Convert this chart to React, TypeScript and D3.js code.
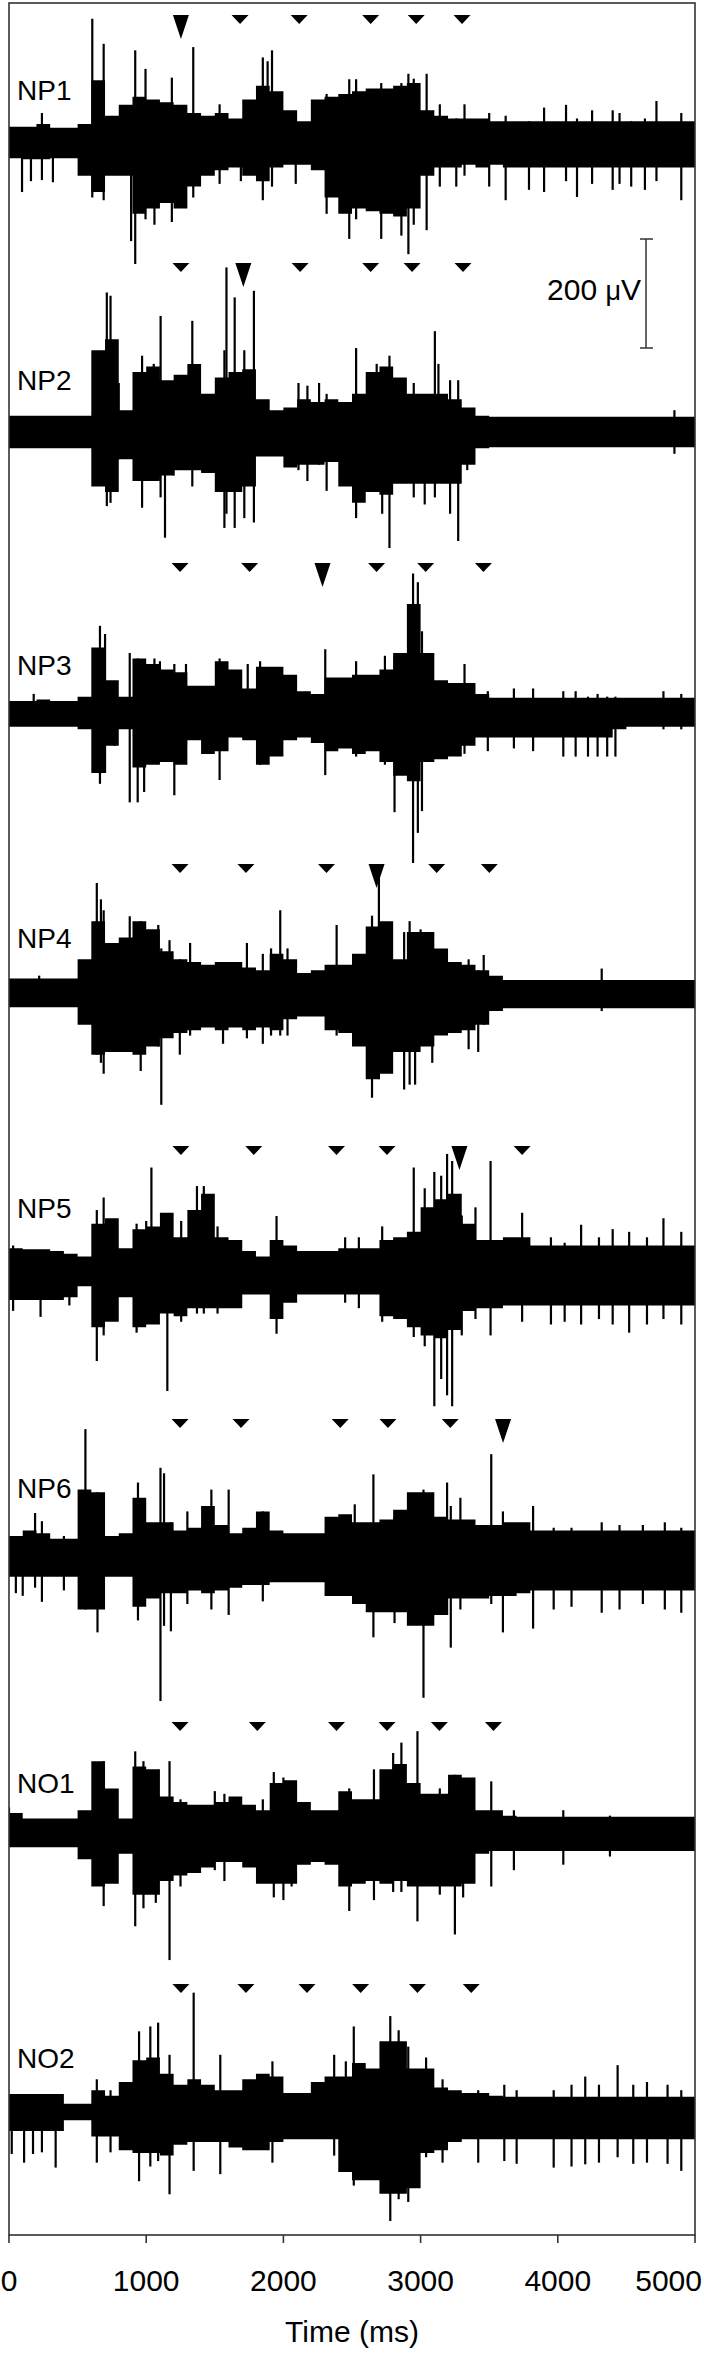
import React from 'react';
import * as d3 from 'd3';

// ---------- data (μV, ms) ----------
const TIME_TICKS = [0, 1000, 2000, 3000, 4000, 5000];
const TRACE_NAMES = ['NP1', 'NP2', 'NP3', 'NP4', 'NP5', 'NP6', 'NO1', 'NO2'];
const BIN_MS = 100;

// dense band envelopes, 100 ms bins from 0 to 4900 ms
const NP1_HI = [30,30,35,28,28,35,115,50,70,85, 80,75,70,55,50,55,45,80,105,95, 60,40,80,85,90,95,100,100,105,110, 60,50,45,45,45,40,40,40,40,40, 40,40,40,40,40,40,40,40,40,40];
const NP1_LO = [-28,-30,-30,-28,-28,-60,-90,-60,-60,-130, -120,-110,-120,-80,-60,-50,-45,-60,-70,-45, -40,-40,-50,-100,-130,-120,-125,-130,-135,-120, -60,-45,-45,-40,-45,-40,-45,-45,-45,-45, -45,-45,-45,-45,-45,-45,-45,-45,-45,-45];
const NP2_HI = [30,30,30,30,30,30,150,170,40,110, 120,95,105,125,70,100,110,115,60,40, 45,60,55,60,55,70,110,120,100,70, 70,70,60,45,30,28,28,28,28,28, 28,28,28,28,28,28,28,28,28,28];
const NP2_LO = [-30,-30,-30,-30,-30,-30,-100,-110,-50,-90, -90,-80,-70,-70,-75,-110,-110,-100,-45,-45, -65,-60,-60,-55,-100,-130,-110,-115,-95,-95, -95,-95,-95,-60,-30,-28,-28,-28,-28,-28, -28,-28,-28,-28,-28,-28,-28,-28,-28,-28];
const NP3_HI = [22,22,25,22,22,30,120,60,30,100, 90,80,75,50,50,95,80,45,85,85, 70,40,35,65,65,70,70,80,110,200, 110,60,55,55,35,28,28,28,28,28, 28,28,28,28,28,28,28,28,28,28];
const NP3_LO = [-25,-25,-25,-25,-25,-30,-110,-60,-30,-100, -95,-90,-95,-50,-75,-70,-45,-50,-95,-80, -50,-45,-55,-70,-65,-75,-70,-90,-115,-125, -90,-85,-80,-60,-45,-45,-45,-45,-45,-45, -45,-45,-45,-45,-30,-25,-25,-25,-25,-25];
const NP4_HI = [25,25,25,25,25,60,130,90,100,130, 115,75,60,55,50,55,55,45,40,70, 60,35,40,50,50,70,120,130,60,110, 110,80,55,50,40,30,22,22,22,22, 22,22,22,22,22,22,22,22,22,22];
const NP4_LO = [-28,-28,-28,-28,-28,-60,-115,-110,-110,-115, -100,-85,-75,-70,-65,-70,-65,-70,-65,-70, -50,-45,-45,-70,-75,-100,-160,-150,-110,-110, -100,-80,-75,-70,-60,-35,-30,-30,-30,-30, -30,-30,-30,-30,-30,-30,-30,-30,-30,-30];
const NP5_HI = [40,38,38,35,30,25,85,95,40,75, 80,105,60,110,140,60,55,35,25,55, 45,35,35,35,40,40,40,55,60,70, 115,130,140,85,55,55,60,60,45,45, 45,45,45,45,45,45,45,45,45,45];
const NP5_LO = [-55,-55,-55,-55,-50,-30,-105,-95,-50,-105, -100,-80,-85,-70,-70,-70,-70,-45,-45,-90, -60,-45,-45,-45,-45,-45,-45,-85,-90,-105, -120,-125,-110,-75,-70,-70,-65,-65,-65,-65, -65,-65,-65,-65,-65,-65,-65,-65,-65,-65];
const NP6_HI = [35,45,40,30,30,120,115,35,40,105, 60,60,45,50,90,55,40,50,80,45, 40,40,40,70,75,60,60,65,83,115, 115,70,65,65,55,55,60,60,45,45, 45,45,45,45,45,45,45,45,45,45];
const NP6_LO = [-40,-40,-40,-40,-40,-100,-100,-40,-40,-95, -80,-70,-70,-65,-70,-65,-60,-55,-55,-50, -50,-50,-50,-75,-75,-90,-105,-105,-105,-130, -130,-110,-80,-80,-80,-75,-75,-70,-65,-65, -65,-65,-65,-65,-65,-65,-65,-65,-65,-65];
const NO1_HI = [35,25,25,25,25,40,130,80,25,120, 115,65,55,50,50,55,65,50,40,90, 95,55,40,40,75,60,60,115,125,90, 70,70,105,100,40,40,30,28,28,28, 28,28,28,28,28,28,28,28,28,28];
const NO1_LO = [-28,-28,-28,-28,-28,-50,-100,-95,-40,-115, -115,-90,-80,-75,-65,-55,-55,-65,-95,-95, -95,-60,-55,-60,-100,-95,-90,-95,-90,-100, -100,-100,-100,-95,-40,-35,-35,-35,-35,-35, -35,-35,-35,-35,-35,-35,-35,-35,-35,-35];
const NO2_HI = [33,33,33,33,15,15,40,30,55,95, 100,70,50,60,50,40,40,60,70,65, 35,35,55,65,65,90,80,130,130,80, 80,45,40,35,35,30,28,28,28,28, 28,28,28,28,28,28,28,28,28,28];
const NO2_LO = [-35,-35,-35,-35,-15,-15,-45,-45,-70,-75, -75,-80,-60,-55,-55,-55,-65,-70,-70,-55, -50,-50,-50,-50,-110,-125,-125,-150,-150,-140, -75,-70,-55,-50,-50,-50,-50,-50,-50,-50, -50,-50,-50,-50,-50,-50,-50,-50,-50,-50];

// prominent spikes: [time ms, positive peak μV, negative peak μV]
const NP1_SPIKES = [[95,0,-90],[160,0,-70],[240,55,-68],[320,0,-72],[607,228,-100],[690,182,-105],[890,0,-180],[920,170,-222],[995,136,-140],[1060,0,-150],[1187,120,-145],[1343,176,-100],[1535,71,-75],[1690,0,-70],[1850,157,-105],[1885,150,0],[1917,170,-80],[2090,0,-75],[2315,90,-130],[2480,117,-176],[2530,117,-140],[2713,110,-176],[2860,110,-170],[2911,127,-204],[2950,118,-150],[3044,127,-160],[3140,71,-80],[3260,45,-80],[3320,71,-60],[3500,55,-80],[3620,50,-105],[3790,40,-86],[3900,65,-90],[4060,70,-70],[4140,45,-99],[4250,60,-75],[4400,60,-86],[4450,55,-75],[4535,40,-80],[4635,45,-86],[4719,77,-70],[4900,55,-105]];
const NP2_SPIKES = [[713,256,-136],[740,250,-130],[800,90,-50],[970,140,-139],[1055,125,0],[1105,213,-120],[1137,0,-194],[1200,60,-80],[1336,204,-100],[1570,150,-176],[1585,302,-150],[1645,247,-176],[1715,150,-158],[1785,259,-166],[2110,90,-70],[2175,85,-90],[2260,90,-60],[2315,70,-108],[2530,154,-158],[2680,125,-110],[2720,115,-150],[2773,140,-213],[2950,90,-120],[3030,60,-133],[3104,185,-120],[3130,125,-90],[3215,95,-150],[3274,95,-200],[3340,40,-70],[4850,40,-40]];
const NP3_SPIKES = [[180,35,0],[663,160,-130],[700,145,-110],[770,0,-60],[880,110,-164],[938,100,-164],[985,90,-145],[1060,100,0],[1100,95,0],[1205,90,-151],[1290,90,-60],[1535,100,-123],[1740,90,0],[1830,95,-95],[2305,117,-114],[2530,95,-80],[2740,105,-95],[2810,105,-182],[2945,256,-275],[2980,240,-220],[3010,150,-180],[3320,90,-75],[3490,40,-70],[3680,45,-65],[3820,45,-70],[4040,40,-80],[4130,40,-80],[4220,30,-80],[4290,35,-80],[4360,30,-80],[4420,30,-80],[4770,40,-30],[4900,35,-30]];
const NP4_SPIKES = [[220,30,0],[640,200,-115],[670,170,-130],[690,150,-150],[880,139,-100],[960,130,-145],[1088,123,-100],[1110,80,-207],[1170,95,-80],[1245,60,-115],[1320,90,-80],[1560,50,-95],[1734,90,-85],[1850,70,-95],[1910,80,-80],[1977,150,-80],[2030,80,-80],[2388,123,-80],[2440,40,-75],[2646,140,-194],[2696,216,-160],[2880,110,-179],[2920,130,-170],[2960,110,-170],[3000,115,-90],[3085,60,-130],[3350,60,-105],[3420,40,-110],[3460,68,-60],[4320,43,-35]];
const NP5_SPIKES = [[30,45,-75],[230,35,-86],[440,20,-65],[640,110,-167],[690,133,-120],[770,40,-65],[930,85,-115],[1000,90,-90],[1038,188,-95],[1154,90,-222],[1255,90,-95],[1370,154,-80],[1420,154,-80],[1520,80,-80],[1950,99,-117],[2450,60,-60],[2550,60,-70],[2720,80,-95],[2950,188,-123],[3030,150,-140],[3100,180,-250],[3150,173,-200],[3193,213,-230],[3230,200,-250],[3300,100,-120],[3400,115,-90],[3510,200,-120],[3740,105,-95],[3950,60,-100],[4050,50,-95],[4170,83,-100],[4300,60,-90],[4400,75,-100],[4520,70,-115],[4650,60,-100],[4770,95,-90],[4900,70,-100]];
const NP6_SPIKES = [[50,30,-70],[100,30,-75],[190,77,-60],[240,62,-86],[400,35,-65],[557,231,-100],[645,115,-142],[940,133,-120],[1104,160,-268],[1130,150,-130],[1180,60,-140],[1300,80,-90],[1475,120,-100],[1601,120,-110],[1850,80,-85],[2520,93,-90],[2656,148,-151],[2810,70,-125],[3021,120,-262],[3193,133,-110],[3220,90,-170],[3290,105,-100],[3515,185,-90],[3600,80,-142],[3820,90,-135],[3970,50,-100],[4100,50,-95],[4320,60,-106],[4450,55,-100],[4620,55,-90],[4780,60,-100],[4900,50,-106]];
const NO1_SPIKES = [[0,45,0],[690,130,-136],[920,148,-173],[980,130,-140],[1070,90,-130],[1170,130,-235],[1250,60,-100],[1500,75,-70],[1570,70,-90],[1850,60,-90],[1930,110,-120],[2000,100,-125],[2060,90,-100],[2480,80,-145],[2660,115,-125],[2800,145,-110],[2860,164,-110],[2977,185,-164],[3140,80,-115],[3250,105,-188],[3310,90,-120],[3515,93,-100],[3680,40,-70],[4040,40,-60],[4380,30,-45]];
const NO2_SPIKES = [[20,0,-77],[110,0,-93],[175,0,-77],[240,0,-74],[340,0,-102],[640,60,-93],[740,40,-74],[948,148,-127],[1030,157,-100],[1087,164,-90],[1170,105,-151],[1346,219,-108],[1540,105,-114],[1920,93,-93],[2370,105,-80],[2455,93,-80],[2513,157,-135],[2779,176,-200],[2840,150,-160],[2910,120,-165],[3040,100,-83],[3160,60,-93],[3420,40,-93],[3610,50,-90],[3700,40,-95],[3970,40,-102],[4100,50,-100],[4200,65,-96],[4300,50,-93],[4436,86,-83],[4550,50,-95],[4650,55,-93],[4800,50,-95],[4900,40,-108]];

// event markers (ms); index of the enlarged marker (-1 = none)
const NP1_MARKERS = [1253,1684,2115,2636,2968,3302];
const NP2_MARKERS = [1253,1708,2122,2636,2938,3309];
const NP3_MARKERS = [1247,1754,2285,2679,3037,3458];
const NP4_MARKERS = [1247,1727,2314,2679,3117,3501];
const NP5_MARKERS = [1253,1784,2387,2755,3283,3740];
const NP6_MARKERS = [1247,1691,2414,2762,3216,3601];
const NO1_MARKERS = [1247,1810,2387,2755,3137,3531];
const NO2_MARKERS = [1253,1727,2172,2563,2977,3369];
const BIG_MARKER = [0,1,2,3,4,5,-1,-1];

const HI = [NP1_HI,NP2_HI,NP3_HI,NP4_HI,NP5_HI,NP6_HI,NO1_HI,NO2_HI];
const LO = [NP1_LO,NP2_LO,NP3_LO,NP4_LO,NP5_LO,NP6_LO,NO1_LO,NO2_LO];
const SPIKES = [NP1_SPIKES,NP2_SPIKES,NP3_SPIKES,NP4_SPIKES,NP5_SPIKES,NP6_SPIKES,NO1_SPIKES,NO2_SPIKES];
const MARKERS = [NP1_MARKERS,NP2_MARKERS,NP3_MARKERS,NP4_MARKERS,NP5_MARKERS,NP6_MARKERS,NO1_MARKERS,NO2_MARKERS];

// ---------- layout ----------
const W = 704, H = 2357;
const PLOT = { left: 9, right: 695, top: 3, bottom: 2235 };
const BASELINE_Y = [143, 432, 713, 992, 1270, 1555, 1832, 2112];
const MARKER_TOP = [15, 263, 563, 864, 1146, 1419, 1722, 1984];
const LABEL_BASE = [100, 390, 675, 948, 1218, 1498, 1793, 2068];
const FONT = '"Liberation Sans", Arial, sans-serif';

export default function App() {
  const x = d3.scaleLinear().domain([0, 5000]).range([PLOT.left, PLOT.right]);
  const amp = d3.scaleLinear().domain([0, 200]).range([0, 109]);

  const area = d3.area<{ t: number; hi: number; lo: number }>()
    .x(d => x(d.t))
    .y0(d => -amp(d.lo))
    .y1(d => -amp(d.hi))
    .curve(d3.curveStepAfter);

  const lastTick = TIME_TICKS[TIME_TICKS.length - 1];

  return (
    <svg width={W} height={H} style={{ position: 'absolute', left: 0, top: 0, background: '#fff' }}
      fontFamily={FONT}>
      <defs>
        <clipPath id="plotclip">
          <rect x={PLOT.left} y={PLOT.top} width={PLOT.right - PLOT.left} height={PLOT.bottom - PLOT.top} />
        </clipPath>
      </defs>
      <rect x={0} y={0} width={W} height={H} fill="#fff" />
      <g clipPath="url(#plotclip)">
        {TRACE_NAMES.map((name, i) => {
          const pts = HI[i].map((h, k) => ({ t: k * BIN_MS, hi: h, lo: LO[i][k] }));
          pts.push({ t: 5000, hi: HI[i][HI[i].length - 1], lo: LO[i][LO[i].length - 1] });
          return (
            <g key={name} transform={`translate(0,${BASELINE_Y[i]})`}>
              <path d={area(pts) || ''} fill="#000" />
              {SPIKES[i].map(([t, up, dn], k) => (
                <line key={k} x1={x(t)} x2={x(t)} y1={-amp(up)} y2={-amp(dn)} stroke="#000" strokeWidth={2.2} />
              ))}
            </g>
          );
        })}
      </g>
      {TRACE_NAMES.map((name, i) => (
        <g key={name + 'm'}>
          {MARKERS[i].map((t, k) => {
            const cx = x(t), top = MARKER_TOP[i];
            const big = BIG_MARKER[i] === k;
            const hw = big ? 8 : 8.5, h = big ? 24 : 9;
            return <path key={k} d={`M${cx - hw},${top}L${cx + hw},${top}L${cx},${top + h}Z`} fill="#000" />;
          })}
          <text x={17} y={LABEL_BASE[i]} fontSize={28} fill="#000">{name}</text>
        </g>
      ))}
      {/* scale bar */}
      <g stroke="#333" strokeWidth={1.5}>
        <line x1={646} x2={646} y1={239} y2={348} />
        <line x1={640} x2={653} y1={239} y2={239} />
        <line x1={640} x2={653} y1={348} y2={348} />
      </g>
      <text x={641} y={300} fontSize={30} textAnchor="end" fill="#000">200 <tspan fontSize={27}>μ</tspan>V</text>
      {/* frame */}
      <rect x={PLOT.left} y={PLOT.top} width={PLOT.right - PLOT.left} height={PLOT.bottom - PLOT.top}
        fill="none" stroke="#333" strokeWidth={1.6} />
      {/* x axis */}
      <g>
        {TIME_TICKS.map(t => (
          <g key={t}>
            <line x1={x(t)} x2={x(t)} y1={PLOT.bottom} y2={PLOT.bottom + 8} stroke="#333" strokeWidth={1.6} />
            <text x={t === lastTick ? W - 2 : x(t)} y={2291} fontSize={30}
              textAnchor={t === lastTick ? 'end' : 'middle'} fill="#000">{t}</text>
          </g>
        ))}
        <text x={(PLOT.left + PLOT.right) / 2} y={2342} fontSize={30} textAnchor="middle" fill="#000">Time (ms)</text>
      </g>
    </svg>
  );
}
